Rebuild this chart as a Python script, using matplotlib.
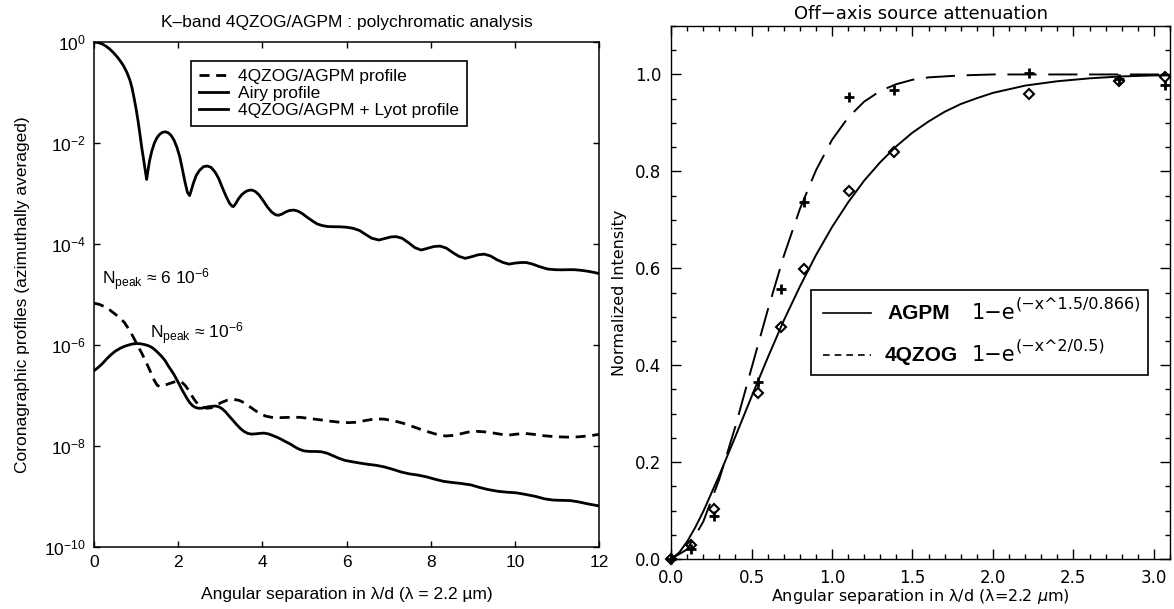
import numpy as np
import matplotlib
matplotlib.use("Agg")
import matplotlib.pyplot as plt
from matplotlib.lines import Line2D
from matplotlib.patches import Rectangle
from matplotlib.ticker import MultipleLocator

plt.rcParams['font.family'] = ['Liberation Sans', 'DejaVu Sans']
plt.rcParams['mathtext.fontset'] = 'custom'
plt.rcParams['mathtext.rm'] = 'Liberation Sans'
plt.rcParams['mathtext.it'] = 'Liberation Sans:italic'
plt.rcParams['mathtext.bf'] = 'Liberation Sans:bold'

# ---- left panel: radial profiles ----
airy_x = [0.00, 0.10, 0.20, 0.30, 0.38, 0.46, 0.54, 0.62, 0.70, 0.78, 0.85, 0.90, 0.95, 1.00,
          1.05, 1.09, 1.13, 1.17, 1.21, 1.25, 1.28, 1.32, 1.37, 1.43, 1.49, 1.55, 1.62, 1.69,
          1.76, 1.83, 1.90, 1.97, 2.04, 2.10, 2.16, 2.22, 2.27, 2.31, 2.36, 2.43, 2.51, 2.60,
          2.69, 2.78, 2.87, 2.96, 3.05, 3.14, 3.22, 3.28, 3.31, 3.36, 3.43, 3.51, 3.60, 3.68,
          3.75, 3.83, 3.92, 4.02, 4.12, 4.22, 4.31, 4.38, 4.46, 4.55, 4.64, 4.74, 4.84, 4.95,
          5.06, 5.18, 5.30, 5.42, 5.55, 5.70, 5.85, 6.00, 6.15, 6.31, 6.45, 6.60, 6.77, 6.90,
          7.05, 7.18, 7.32, 7.48, 7.62, 7.77, 7.92, 8.07, 8.22, 8.37, 8.52, 8.67, 8.82, 8.97,
          9.12, 9.27, 9.42, 9.57, 9.72, 9.86, 10.01, 10.15, 10.27, 10.42, 10.57, 10.77, 10.95,
          11.10, 11.25, 11.41, 11.56, 11.72, 11.87, 12.00]
airy_y = [1.0, 0.975, 0.91, 0.81, 0.716, 0.617, 0.519, 0.427, 0.339, 0.251, 0.178, 0.126,
          0.079, 0.047, 0.026, 0.015, 0.0085, 0.0052, 0.0031, 0.0019, 0.0028, 0.0045, 0.0068,
          0.0098, 0.0125, 0.0146, 0.0162, 0.0167, 0.0160, 0.0142, 0.0114, 0.0082, 0.0052,
          0.0030, 0.0017, 0.00105, 0.00091, 0.00115, 0.0016, 0.0023, 0.0029, 0.0034, 0.0035,
          0.0033, 0.0027, 0.0020, 0.0013, 0.00087, 0.00064, 0.00056, 0.00055, 0.00062,
          0.00078, 0.00095, 0.00109, 0.00116, 0.00117, 0.00110, 0.00094, 0.00072, 0.00054,
          0.00043, 0.00038, 0.00037, 0.00039, 0.00043, 0.00046, 0.00047, 0.00045, 0.00040,
          0.00034, 0.00029, 0.00025, 0.000232, 0.000222, 0.000220, 0.000219, 0.000215,
          0.000205, 0.000185, 0.000155, 0.000130, 0.000120, 0.000128, 0.000138, 0.000140,
          0.000130, 0.000105, 8.5e-5, 7.6e-5, 8.2e-5, 8.9e-5, 9.1e-5, 8.3e-5, 6.8e-5, 5.7e-5,
          5.2e-5, 5.6e-5, 6.1e-5, 6.3e-5, 5.8e-5, 4.9e-5, 4.3e-5, 4.0e-5, 4.2e-5, 4.3e-5,
          4.3e-5, 4.0e-5, 3.6e-5, 3.2e-5, 3.1e-5, 3.08e-5, 3.1e-5, 3.1e-5, 3.02e-5, 2.9e-5,
          2.75e-5, 2.6e-5]

lyot_x = [0.00, 0.10, 0.20, 0.30, 0.40, 0.50, 0.62, 0.72, 0.82, 0.92, 1.01, 1.10, 1.20, 1.29,
          1.37, 1.45, 1.53, 1.61, 1.69, 1.76, 1.83, 1.90, 1.96, 2.02, 2.08, 2.14, 2.20, 2.27,
          2.34, 2.41, 2.48, 2.56, 2.64, 2.72, 2.80, 2.88, 2.96, 3.04, 3.12, 3.20, 3.29, 3.38,
          3.47, 3.56, 3.65, 3.74, 3.84, 3.94, 4.04, 4.14, 4.24, 4.34, 4.44, 4.55, 4.66, 4.77,
          4.88, 4.99, 5.12, 5.26, 5.40, 5.54, 5.68, 5.82, 5.96, 6.12, 6.31, 6.50, 6.70, 6.90,
          7.10, 7.30, 7.50, 7.70, 7.90, 8.10, 8.30, 8.50, 8.70, 8.95, 9.15, 9.35, 9.59, 9.80,
          10.04, 10.25, 10.50, 10.70, 10.91, 11.10, 11.32, 11.52, 11.75, 12.00]
lyot_y = [3.1e-7, 3.6e-7, 4.3e-7, 5.3e-7, 6.4e-7, 7.5e-7, 8.6e-7, 9.4e-7, 1.0e-6, 1.05e-6,
          1.07e-6, 1.06e-6, 1.02e-6, 9.7e-7, 9.0e-7, 8.0e-7, 6.9e-7, 5.9e-7, 4.9e-7, 3.9e-7,
          3.2e-7, 2.6e-7, 2.1e-7, 1.7e-7, 1.35e-7, 1.1e-7, 9.0e-8, 7.3e-8, 6.3e-8, 5.8e-8,
          5.6e-8, 5.6e-8, 5.8e-8, 6.0e-8, 6.1e-8, 6.2e-8, 6.0e-8, 5.5e-8, 4.8e-8, 4.0e-8,
          3.3e-8, 2.7e-8, 2.25e-8, 1.95e-8, 1.78e-8, 1.72e-8, 1.74e-8, 1.78e-8, 1.8e-8,
          1.74e-8, 1.62e-8, 1.5e-8, 1.37e-8, 1.22e-8, 1.1e-8, 9.6e-9, 8.6e-9, 8.0e-9, 7.8e-9,
          7.8e-9, 7.7e-9, 7.2e-9, 6.4e-9, 5.7e-9, 5.2e-9, 4.9e-9, 4.6e-9, 4.35e-9, 4.15e-9,
          3.85e-9, 3.45e-9, 3.05e-9, 2.8e-9, 2.65e-9, 2.45e-9, 2.2e-9, 2.0e-9, 1.9e-9,
          1.82e-9, 1.7e-9, 1.52e-9, 1.38e-9, 1.27e-9, 1.22e-9, 1.18e-9, 1.1e-9, 1.0e-9,
          9.0e-10, 8.5e-10, 8.4e-10, 8.3e-10, 7.8e-10, 7.1e-10, 6.5e-10]

mask_x = [0.00, 0.12, 0.24, 0.38, 0.50, 0.62, 0.72, 0.82, 0.93, 1.03, 1.13, 1.23, 1.33, 1.43,
          1.50, 1.56, 1.65, 1.77, 1.90, 2.00, 2.08, 2.16, 2.24, 2.32, 2.40, 2.48, 2.58, 2.68,
          2.78, 2.90, 3.03, 3.17, 3.31, 3.45, 3.58, 3.70, 3.82, 3.94, 4.08, 4.22, 4.45, 4.66,
          4.90, 5.13, 5.37, 5.61, 5.85, 6.04, 6.22, 6.45, 6.68, 6.90, 7.13, 7.36, 7.59, 7.82,
          8.04, 8.20, 8.36, 8.52, 8.68, 8.88, 9.09, 9.30, 9.50, 9.68, 9.86, 10.05, 10.23,
          10.45, 10.68, 10.95, 11.23, 11.50, 11.75, 12.00]
mask_y = [6.7e-6, 6.4e-6, 5.8e-6, 4.9e-6, 4.1e-6, 3.4e-6, 2.8e-6, 2.1e-6, 1.45e-6, 1.0e-6,
          7.0e-7, 4.7e-7, 3.1e-7, 2.0e-7, 1.6e-7, 1.5e-7, 1.58e-7, 1.7e-7, 1.85e-7, 1.93e-7,
          1.85e-7, 1.6e-7, 1.3e-7, 1.0e-7, 7.9e-8, 6.6e-8, 5.9e-8, 5.6e-8, 5.7e-8, 6.4e-8,
          7.3e-8, 8.1e-8, 8.4e-8, 8.0e-8, 7.1e-8, 6.0e-8, 5.1e-8, 4.4e-8, 3.9e-8, 3.7e-8,
          3.65e-8, 3.7e-8, 3.7e-8, 3.5e-8, 3.3e-8, 3.1e-8, 2.95e-8, 2.9e-8, 2.95e-8, 3.2e-8,
          3.45e-8, 3.4e-8, 3.15e-8, 2.8e-8, 2.4e-8, 2.05e-8, 1.8e-8, 1.65e-8, 1.58e-8,
          1.62e-8, 1.72e-8, 1.88e-8, 1.95e-8, 1.9e-8, 1.8e-8, 1.7e-8, 1.65e-8, 1.72e-8,
          1.78e-8, 1.7e-8, 1.6e-8, 1.53e-8, 1.5e-8, 1.52e-8, 1.58e-8, 1.7e-8]

left_xticks = [0, 2, 4, 6, 8, 10, 12]
left_yexp = [-10, -8, -6, -4, -2, 0]

# ---- right panel: off-axis attenuation ----
sep = [0.0, 0.123, 0.265, 0.542, 0.681, 0.826, 1.106, 1.384, 2.225, 2.785, 3.07]
agpm_meas = [0.0, 0.028, 0.103, 0.343, 0.478, 0.598, 0.760, 0.839, 0.960, 0.987, 0.994]
qzog_meas = [0.0, 0.021, 0.089, 0.365, 0.557, 0.737, 0.954, 0.968, 1.003, 0.990, 0.978]

agpm_fit_x = [0.0, 0.05, 0.1, 0.15, 0.2, 0.3, 0.4, 0.5, 0.6, 0.7, 0.8, 0.9, 1.0, 1.1, 1.2,
              1.3, 1.4, 1.5, 1.6, 1.7, 1.8, 1.9, 2.0, 2.2, 2.4, 2.6, 2.8, 3.0, 3.1]
agpm_fit_y = [0.0, 0.013, 0.036, 0.065, 0.098, 0.173, 0.253, 0.335, 0.415, 0.492, 0.562,
              0.627, 0.685, 0.736, 0.781, 0.819, 0.852, 0.880, 0.903, 0.923, 0.939, 0.951,
              0.962, 0.977, 0.986, 0.992, 0.996, 0.998, 0.998]
qzog_fit_x = [0.0, 0.1, 0.2, 0.3, 0.4, 0.5, 0.6, 0.7, 0.8, 0.9, 1.0, 1.1, 1.2, 1.3, 1.4,
              1.5, 1.6, 1.8, 2.0, 2.5, 3.1]
qzog_fit_y = [0.0, 0.020, 0.077, 0.165, 0.274, 0.394, 0.513, 0.625, 0.722, 0.802, 0.865,
              0.911, 0.944, 0.966, 0.980, 0.989, 0.994, 0.998, 1.0, 1.0, 1.0]

fig = plt.figure(figsize=(11.74, 6.09), dpi=100)

# left
ax = fig.add_axes([0.0801, 0.1018, 0.4302, 0.8292])
ax.plot(mask_x, mask_y, color='k', lw=2.0, dashes=(3.6, 2.4), label='4QZOG/AGPM profile')
ax.plot(airy_x, airy_y, color='k', lw=2.0, label='Airy profile')
ax.plot(lyot_x, lyot_y, color='k', lw=2.0, label='4QZOG/AGPM + Lyot profile')
ax.set_yscale('log')
ax.set_xlim(0, 12)
ax.set_ylim(1e-10, 1)
ax.set_xticks(left_xticks)
ax.set_yticks([10.0 ** e for e in left_yexp], labels=['$10^{%d}$' % e for e in left_yexp])
ax.minorticks_off()
ax.tick_params(direction='in', top=True, right=True, length=4, width=1, labelsize=12.5, pad=6)
for s in ax.spines.values():
    s.set_linewidth(1.1)
ax.set_title('K\u2013band 4QZOG/AGPM : polychromatic analysis', fontsize=12.5, pad=11)
ax.set_xlabel('Angular separation in \u03bb/d (\u03bb = 2.2 \u00b5m)', fontsize=12.5, labelpad=12)
ax.set_ylabel('Coronagraphic profiles (azimuthally averaged)', fontsize=12.5, labelpad=10)
ax.text(0.2, 1.6e-5, 'N$_{\\mathrm{peak}}$ \u2248 6 10$^{-6}$', fontsize=12.5, va='baseline')
ax.text(1.33, 1.35e-6, 'N$_{\\mathrm{peak}}$ \u2248 10$^{-6}$', fontsize=12.5, va='baseline')
leg = ax.legend(loc='upper left', bbox_to_anchor=(0.192, 0.963), fontsize=12.5, frameon=True,
                fancybox=False, edgecolor='k', framealpha=1, borderpad=0.45, labelspacing=0.12,
                handlelength=1.7, handletextpad=0.55, borderaxespad=0)
leg.get_frame().set_linewidth(1.2)

# right
hf = 'DejaVu Sans'
ax2 = fig.add_axes([0.5716, 0.0821, 0.4250, 0.8752])
ax2.plot(agpm_fit_x, agpm_fit_y, color='k', lw=1.4)
ax2.plot(qzog_fit_x, qzog_fit_y, color='k', lw=1.4, dashes=(15, 6))
ax2.plot(sep, agpm_meas, ls='none', marker='D', ms=4.8, mfc='none', mec='k', mew=1.5, clip_on=False)
ax2.plot(sep, qzog_meas, ls='none', marker='+', ms=7, mec='k', mew=2, clip_on=False)
ax2.set_xlim(0, 3.1)
ax2.set_ylim(0, 1.1)
ax2.xaxis.set_major_locator(MultipleLocator(0.5))
ax2.xaxis.set_minor_locator(MultipleLocator(0.1))
ax2.yaxis.set_major_locator(MultipleLocator(0.2))
ax2.yaxis.set_minor_locator(MultipleLocator(0.05))
ax2.tick_params(which='both', direction='in', top=True, right=True, width=1,
                labelsize=12, labelfontfamily=hf, pad=7)
ax2.tick_params(which='major', length=7)
ax2.tick_params(which='minor', length=3.6)
for s in ax2.spines.values():
    s.set_linewidth(1.0)
ax2.set_title('Off\u2212axis source attenuation', fontsize=13, family=hf, pad=5)
ax2.set_xlabel('Angular separation in \u03bb/d (\u03bb=2.2 $\\mu$m)', fontsize=11.5, family=hf,
               math_fontfamily='dejavusans', labelpad=0)
ax2.set_ylabel('Normalized Intensity', fontsize=11.5, family=hf, labelpad=6)

# hand-made IDL style legend
ax2.add_patch(Rectangle((0.2806, 0.345), 0.6754, 0.160, transform=ax2.transAxes,
                        fill=True, fc='white', ec='k', lw=1.2, zorder=5))
ax2.add_line(Line2D([0.3046, 0.4008], [0.461, 0.461], transform=ax2.transAxes,
                    color='k', lw=1.2, zorder=6))
ax2.add_line(Line2D([0.3046, 0.4008], [0.383, 0.383], transform=ax2.transAxes,
                    color='k', lw=1.2, dashes=(4, 3), zorder=6))
ax2.text(0.4339, 0.4497, 'AGPM', transform=ax2.transAxes, fontsize=15, fontweight='bold',
         va='baseline', zorder=7)
ax2.text(0.4289, 0.3715, '4QZOG', transform=ax2.transAxes, fontsize=15, fontweight='bold',
         va='baseline', zorder=7)
for ybase, sup in [(0.4497, '(\u2212x^1.5/0.866)'), (0.3715, '(\u2212x^2/0.5)')]:
    t = ax2.text(0.603, ybase, '1\u2212e', transform=ax2.transAxes, fontsize=15, family=hf,
                 va='baseline', zorder=7)
    ax2.annotate(sup, xy=(1.0, 0.72), xycoords=t, fontsize=11.5, family=hf,
                 va='baseline', ha='left', zorder=7)

fig.savefig('out.png', dpi=100)
